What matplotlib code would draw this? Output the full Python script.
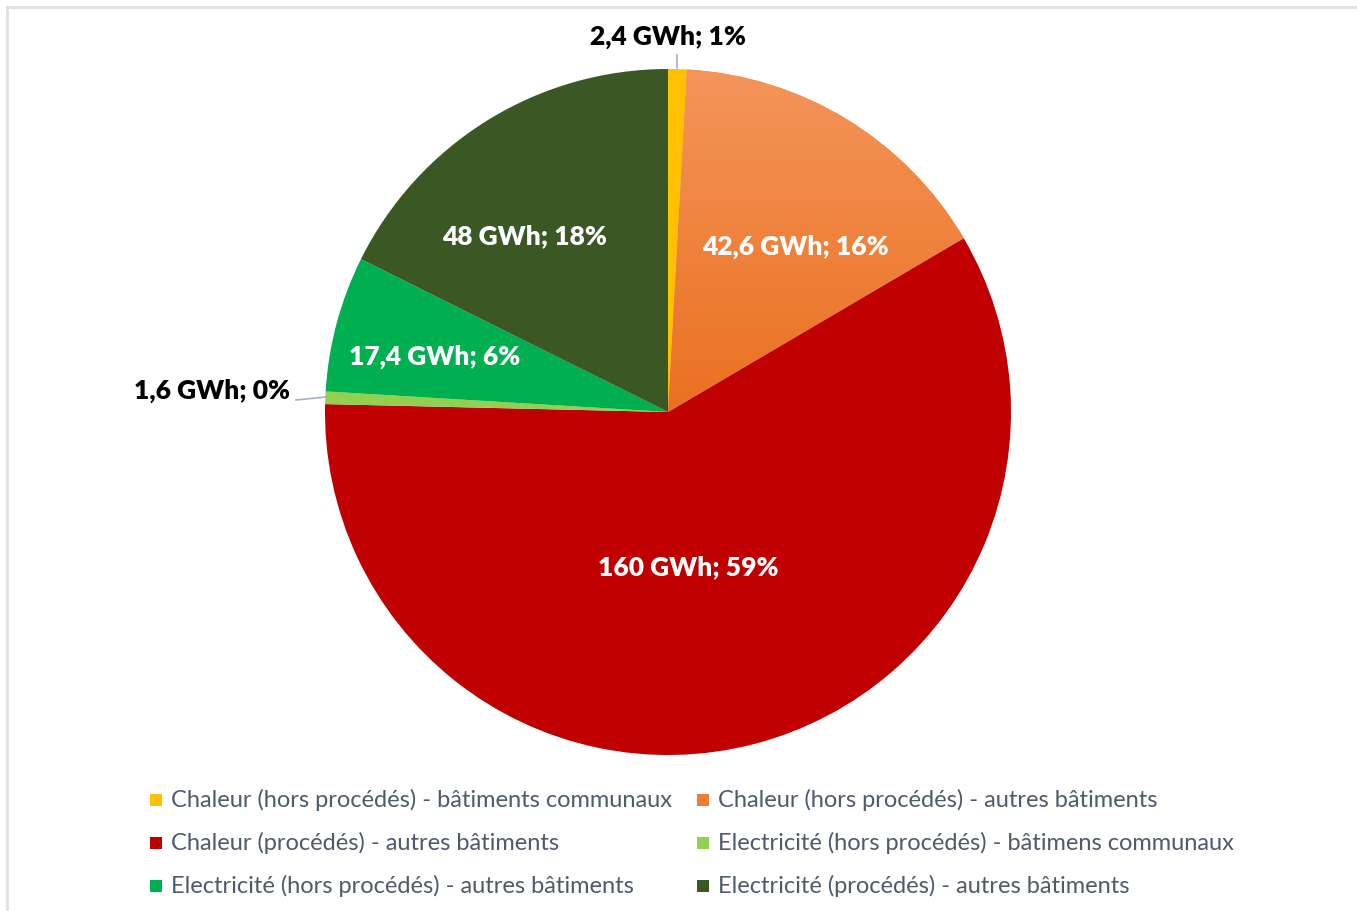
import matplotlib
matplotlib.use("Agg")
import matplotlib.pyplot as plt
import numpy as np
from matplotlib.patches import Rectangle
from matplotlib.colors import LinearSegmentedColormap
from matplotlib.lines import Line2D

categories = [
    "Chaleur (hors procédés) - bâtiments communaux",
    "Chaleur (hors procédés) - autres bâtiments",
    "Chaleur (procédés) - autres bâtiments",
    "Electricité (hors procédés) - bâtimens communaux",
    "Electricité (hors procédés) - autres bâtiments",
    "Electricité (procédés) - autres bâtiments",
]
values = [2.4, 42.6, 160, 1.6, 17.4, 48]
labels = ["2,4 GWh; 1%", "42,6 GWh; 16%", "160 GWh; 59%", "1,6 GWh; 0%", "17,4 GWh; 6%", "48 GWh; 18%"]
colors = ["#FFC000", "#ED7D31", "#C00000", "#92D050", "#00B050", "#3A5724"]

W, H = 1357, 911
fig = plt.figure(figsize=(W / 100, H / 100), dpi=100)
fig.patch.set_facecolor("white")

ax = fig.add_axes([0, 0, 1, 1])
ax.set_xlim(0, W)
ax.set_ylim(H, 0)
ax.set_aspect("equal")
ax.axis("off")

cx, cy, r = 668, 412, 343
wedges, _ = ax.pie(values, colors=colors, center=(cx, cy), radius=r,
                   startangle=-90, counterclock=True, frame=False,
                   wedgeprops=dict(linewidth=0))
ax.set_xlim(0, W)
ax.set_ylim(H, 0)

# orange gradient
grad = np.linspace(0, 1, 256).reshape(-1, 1)
cmap = LinearSegmentedColormap.from_list("og", ["#F4955A", "#EA7020"])
im = ax.imshow(grad, cmap=cmap, extent=(cx - r, cx + r, cy, cy - r), aspect="auto",
               zorder=wedges[1].get_zorder() + 0.1)
im.set_clip_path(wedges[1])
ax.set_xlim(0, W)
ax.set_ylim(H, 0)

fam = ["Lato", "DejaVu Sans"]
lab_pos = [(668, 37), (795, 247), (688, 567), (212, 391), (435, 357), (525, 236)]
lab_col = ["black", "white", "white", "black", "white", "white"]
for (x, y), t, c in zip(lab_pos, labels, lab_col):
    ax.text(x, y, t, ha="center", va="center", fontsize=19, fontweight="heavy",
            color=c, family=fam, zorder=10)

# leader lines
ax.add_line(Line2D([677, 677], [55, 68], color="#A6B1C0", lw=1.2, zorder=9))
ax.add_line(Line2D([296, 326], [400, 397], color="#A6B1C0", lw=1.2, zorder=9))

# legend (row-wise)
leg_x = [150, 697]
leg_y = [800, 843, 886]
for i, (cat, col) in enumerate(zip(categories, colors)):
    row, c = divmod(i, 2)
    x, y = leg_x[c], leg_y[row]
    ax.add_patch(Rectangle((x, y - 6), 12, 12, facecolor=col, edgecolor="none", zorder=10))
    ax.text(x + 21, y, cat, ha="left", va="center", fontsize=17, color="#4F5A6B",
            family=fam, zorder=10)

# chart border (left and top)
ax.add_line(Line2D([7, 7], [7, H], color="#DDE1E6", lw=2, zorder=20))
ax.add_line(Line2D([7, W], [7, 7], color="#DDE1E6", lw=2, zorder=20))

fig.savefig("out.png", dpi=100)
